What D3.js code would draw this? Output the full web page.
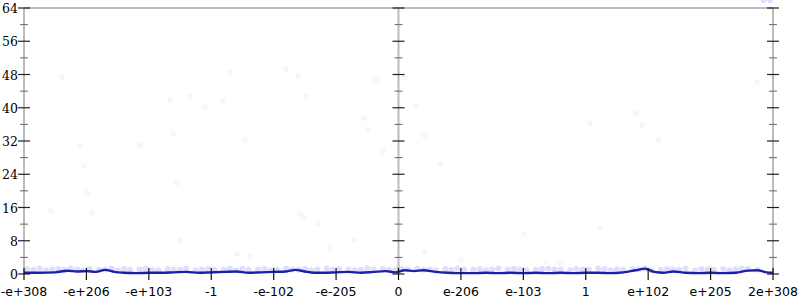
<html>
<head>
<script src="https://d3js.org/d3.v7.min.js"></script>
<style>
body { margin:0; background:#fff; }
</style>
</head>
<body>
<div id="chart"></div>
<script>
var width=800;
var height=300;
// x positions are tick units: 0 = first tick label, 12 = last
var xTickLabels=["-e+308","-e+206","-e+103","-1","-e-102","-e-205","0","e-206","e-103","1","e+102","e+205","2e+308"];
var yTicks=[0,8,16,24,32,40,48,56,64];

// scattered samples (x in tick units, y value)
var scatterX=[0.61,0.43,0.90,0.96,1.01,1.09,1.86,2.40,2.66,2.34,2.90,3.19,2.44,2.50,3.30,3.54,4.20,4.39,4.52,4.42,4.47,5.45,5.51,5.75,5.65,6.10,6.28,6.41,6.67,6.42,7.00,8.01,9.07,9.23,9.80,9.90,10.16,12.0,11.74,5.30,4.90,4.71,3.41,3.62,8.36,8.59];
var scatterY=[47.4,15.2,30.8,26.0,19.5,14.7,31.0,33.7,42.6,41.9,40.2,41.6,21.9,8.0,48.4,32.2,49.3,47.6,42.6,14.7,13.7,37.5,34.6,29.6,46.7,47.2,40.4,33.4,26.5,5.3,3.4,9.6,36.3,11.1,38.7,35.8,32.2,47.4,46.2,8.2,6.3,12.3,4.8,4.3,2.9,2.4];
// dense band of samples just above zero
var bandX=[0.05,0.15,0.25,0.35,0.45,0.55,0.65,0.75,0.85,0.95,1.05,1.2,1.3,1.4,1.5,1.6,1.7,1.85,1.95,2.05,2.15,2.3,2.4,2.5,2.6,2.75,2.85,2.95,3.05,3.2,3.3,3.4,3.5,3.6,3.75,3.85,3.95,4.05,4.2,4.3,4.4,4.5,4.6,4.7,4.85,4.95,5.05,5.2,5.3,5.4,5.5,5.6,5.75,5.85,5.95,6.05,6.15,6.3,6.4,6.5,6.6,6.75,6.85,6.95,7.05,7.2,7.3,7.4,7.5,7.6,7.75,7.85,7.95,8.05,8.2,8.3,8.4,8.5,8.6,8.75,8.85,8.95,9.05,9.2,9.3,9.4,9.5,9.6,9.75,9.85,9.95,10.05,10.2,10.3,10.4,10.5,10.6,10.75,10.85,10.95,11.05,11.2,11.3,11.4,11.5,11.6,11.75,11.85,11.95];
var bandY=[1.2,1.0,1.3,0.9,1.1,1.2,1.0,1.3,1.1,0.9,1.2,1.0,1.1,1.3,0.9,1.2,1.0,1.1,1.3,1.0,0.9,1.2,1.1,1.0,1.3,0.9,1.1,1.2,1.0,1.1,1.3,0.9,1.2,1.0,1.1,1.2,0.9,1.0,1.3,1.1,1.0,1.2,0.9,1.1,1.3,1.0,1.2,1.1,0.9,1.0,1.3,1.1,1.2,1.0,0.9,1.2,1.1,1.3,1.0,1.1,0.9,1.2,1.0,1.3,1.1,1.0,1.2,0.9,1.1,1.3,1.0,1.2,1.1,0.9,1.0,1.2,1.3,1.1,1.0,0.9,1.2,1.1,1.0,1.3,1.2,0.9,1.1,1.0,1.2,1.1,1.3,0.9,1.0,1.2,1.1,1.0,1.3,0.9,1.2,1.1,1.0,1.2,0.9,1.1,1.3,1.2,1.0];
// running average line
var lineX=[0,0.25,0.5,0.7,0.85,1.0,1.15,1.3,1.45,1.6,1.8,2.0,2.2,2.4,2.6,2.8,3.0,3.2,3.4,3.6,3.8,4.0,4.2,4.35,4.5,4.65,4.8,5.0,5.2,5.4,5.6,5.8,5.95,6.1,6.25,6.4,6.6,6.8,7.0,7.2,7.4,7.6,7.8,8.0,8.2,8.4,8.6,8.8,9.0,9.2,9.4,9.6,9.8,9.95,10.1,10.25,10.4,10.6,10.8,11.0,11.2,11.4,11.6,11.75,11.9,12.0];
var lineY=[0.3,0.3,0.4,0.8,0.6,0.7,0.5,1.0,0.5,0.3,0.2,0.3,0.3,0.4,0.5,0.3,0.4,0.5,0.6,0.3,0.4,0.5,0.6,1.0,0.6,0.3,0.3,0.4,0.5,0.3,0.5,0.7,0.4,0.9,0.7,0.9,0.5,0.3,0.2,0.2,0.3,0.2,0.3,0.2,0.3,0.2,0.3,0.2,0.3,0.3,0.2,0.4,0.9,1.3,0.5,0.3,0.6,0.3,0.2,0.3,0.2,0.3,0.8,0.9,0.4,0.3];

var x0=24, x1=773, yTop=8, yBot=274;
var xs=d3.scaleLinear().domain([0,12]).range([x0,x1]);
var ys=d3.scaleLinear().domain([0,64]).range([yBot,yTop]);

var svg=d3.select("#chart").append("svg")
    .attr("width",width)
    .attr("height",height);

// frame: top line and three vertical axes
svg.append("line").attr("x1",x0).attr("x2",x1).attr("y1",yTop).attr("y2",yTop)
    .attr("stroke","#bbb").attr("stroke-width",2);
[0,6,12].forEach(function(u){
    svg.append("line").attr("x1",xs(u)).attr("x2",xs(u)).attr("y1",yTop).attr("y2",yBot)
        .attr("stroke","#bbb").attr("stroke-width",2);
});

// data
var pts=scatterX.map(function(d,i){return [d,scatterY[i]];});
var band=bandX.map(function(d,i){return [d,bandY[i]];});
svg.append("g").selectAll("circle").data(pts).enter().append("circle")
    .attr("cx",function(d){return xs(d[0]);})
    .attr("cy",function(d){return ys(d[1]);})
    .attr("r",3)
    .attr("fill","#3030ff").attr("fill-opacity",0.045);
svg.append("g").selectAll("circle").data(band).enter().append("circle")
    .attr("cx",function(d){return xs(d[0]);})
    .attr("cy",function(d){return ys(d[1]);})
    .attr("r",3)
    .attr("fill","#3030ff").attr("fill-opacity",0.16);

var line=d3.line().curve(d3.curveMonotoneX)
    .x(function(d){return xs(d[0]);})
    .y(function(d){return ys(d[1]);});
svg.append("path").datum(lineX.map(function(d,i){return [d,lineY[i]];}))
    .attr("d",line).attr("fill","none")
    .attr("stroke","#1e1ea8").attr("stroke-width",2.4);

// y ticks on the three axes
[0,6,12].forEach(function(u){
    var ax=xs(u);
    yTicks.forEach(function(t){
        svg.append("line").attr("x1",ax-6).attr("x2",ax+6).attr("y1",ys(t)).attr("y2",ys(t))
            .attr("stroke","#222").attr("stroke-width",1.2);
        if(t<64){
            svg.append("line").attr("x1",ax-4).attr("x2",ax+4).attr("y1",ys(t+4)).attr("y2",ys(t+4))
                .attr("stroke","#666").attr("stroke-width",1);
        }
    });
});

// y labels
svg.append("g").selectAll("text").data(yTicks).enter().append("text")
    .attr("x",18).attr("y",function(d){return ys(d)+5;})
    .attr("text-anchor","end")
    .style("font-family","DejaVu Serif")
    .style("font-size","12.5px")
    .text(function(d){return d;});

// x ticks and labels
xTickLabels.forEach(function(lbl,i){
    svg.append("line").attr("x1",xs(i)).attr("x2",xs(i)).attr("y1",yBot-6).attr("y2",yBot+6)
        .attr("stroke","#111").attr("stroke-width",1.2);
    svg.append("text").attr("x",xs(i)).attr("y",296)
        .attr("text-anchor","middle")
        .style("font-family","DejaVu Sans")
        .style("font-size","12.5px")
        .text(lbl);
});
</script>
</body>
</html>
